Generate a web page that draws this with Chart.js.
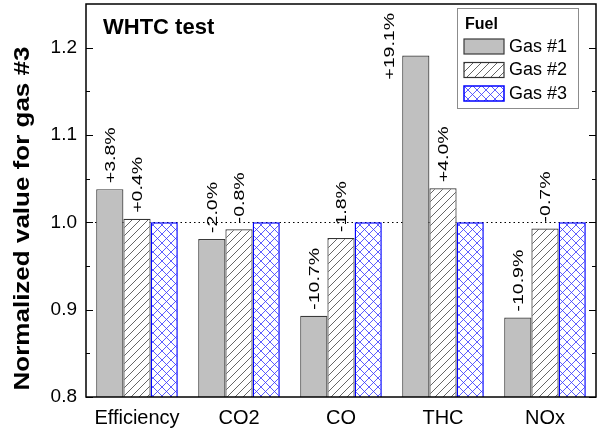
<!DOCTYPE html>
<html><head><meta charset="utf-8">
<script src="https://cdn.jsdelivr.net/npm/chart.js@4/dist/chart.umd.min.js"></script>
<style>html,body{margin:0;padding:0;background:#fff;overflow:hidden}</style>
</head><body>
<canvas id="c" width="599" height="429" style="width:599px;height:429px;display:block"></canvas>
<script>
const categories = ['Efficiency', 'CO2', 'CO', 'THC', 'NOx'];
const seriesNames = ['Gas #1', 'Gas #2', 'Gas #3'];
const gas1 = [1.038, 0.981, 0.893, 1.191, 0.891];
const gas2 = [1.004, 0.992, 0.982, 1.039, 0.993];
const gas3 = [1.000, 1.000, 1.000, 1.000, 1.000];
const gas1Labels = ['+3.8%', '-2.0%', '-10.7%', '+19.1%', '-10.9%'];
const gas2Labels = ['+0.4%', '-0.8%', '-1.8%', '+4.0%', '-0.7%'];
const yTicks = [0.8, 0.9, 1.0, 1.1, 1.2];
const yMinorTicks = [0.85, 0.95, 1.05, 1.15];
const yMin = 0.8, yMax = 1.25;
const referenceValue = 1.0;
const chartTitle = 'WHTC test';
const yTitle = 'Normalized value for gas #3';
const legendTitle = 'Fuel';

const FONT = "'Liberation Sans', Arial, sans-serif";

function makePattern(color, bg, size, cross, lw) {
  const c = document.createElement('canvas');
  c.width = size; c.height = size;
  const g = c.getContext('2d');
  g.fillStyle = bg; g.fillRect(0, 0, size, size);
  g.strokeStyle = color; g.lineWidth = lw;
  g.beginPath();
  for (let k = -1; k <= 1; k++) {
    g.moveTo(k * size, size); g.lineTo(k * size + size, 0);
    if (cross) { g.moveTo(k * size, 0); g.lineTo(k * size + size, size); }
  }
  g.stroke();
  return g.createPattern(c, 'repeat');
}
const pat2 = makePattern('#555555', '#ffffff', 8, false, 0.9);
const pat3 = makePattern('#3333ff', '#ffffff', 9, true, 0.8);

const styles = [
  { bg: '#c0c0c0', border: '#3a3a3a', bw: 1.2 },
  { bg: pat2, border: '#333333', bw: 1.2 },
  { bg: pat3, border: '#0000ff', bw: 1.5 }
];

const framePlugin = {
  id: 'frame',
  beforeDatasetsDraw(chart) {
    const { ctx, chartArea: a, scales } = chart;
    const y = scales.y.getPixelForValue(referenceValue);
    ctx.save();
    ctx.strokeStyle = '#000'; ctx.lineWidth = 1;
    ctx.setLineDash([1.5, 3]);
    ctx.beginPath(); ctx.moveTo(a.left, Math.round(y) + 0.5); ctx.lineTo(a.right, Math.round(y) + 0.5); ctx.stroke();
    ctx.restore();
  },
  afterDatasetsDraw(chart) {
    const { ctx, chartArea: a } = chart;
    const labelSets = [gas1Labels, gas2Labels];
    ctx.save();
    ctx.fillStyle = '#000';
    const fs = 19.5;
    ctx.font = fs + 'px ' + FONT;
    labelSets.forEach((labels, di) => {
      const meta = chart.getDatasetMeta(di);
      meta.data.forEach((bar, i) => {
        const txt = labels[i];
        const len = ctx.measureText(txt).width;
        let x = bar.x, start = bar.y - 6;
        if (start - len < a.top + 6) {
          x = bar.x - bar.width;
          start = a.top + 9 + len;
        }
        ctx.save();
        ctx.translate(x, start);
        ctx.rotate(-Math.PI / 2);
        ctx.scale(1, 0.74);
        ctx.textAlign = 'left';
        ctx.textBaseline = 'alphabetic';
        ctx.fillText(txt, 0, fs * 0.358);
        ctx.restore();
      });
    });
    ctx.restore();
  },
  afterDraw(chart) {
    const { ctx, chartArea: a, scales } = chart;
    const ys = scales.y;
    ctx.save();
    ctx.strokeStyle = '#000'; ctx.lineWidth = 1.5;
    ctx.strokeRect(a.left, a.top, a.right - a.left, a.bottom - a.top);
    ctx.lineWidth = 1.2;
    ctx.beginPath();
    yTicks.forEach(v => {
      const p = Math.round(ys.getPixelForValue(v)) + 0.5;
      ctx.moveTo(a.left, p); ctx.lineTo(a.left + 7, p);
      ctx.moveTo(a.right, p); ctx.lineTo(a.right - 7, p);
    });
    yMinorTicks.forEach(v => {
      const p = Math.round(ys.getPixelForValue(v)) + 0.5;
      ctx.moveTo(a.left, p); ctx.lineTo(a.left + 4, p);
      ctx.moveTo(a.right, p); ctx.lineTo(a.right - 4, p);
    });
    ctx.stroke();
    ctx.fillStyle = '#000';
    ctx.font = 'bold 22px ' + FONT;
    ctx.textAlign = 'left'; ctx.textBaseline = 'alphabetic';
    ctx.fillText(chartTitle, a.left + 17, a.top + 30);
    ctx.save();
    ctx.translate(23, (a.top + a.bottom) / 2 + 18);
    ctx.rotate(-Math.PI / 2);
    ctx.scale(1, 0.83);
    ctx.font = 'bold 26px ' + FONT;
    ctx.textAlign = 'center'; ctx.textBaseline = 'alphabetic';
    ctx.fillText(yTitle, 0, 26 * 0.3);
    ctx.restore();
    const lx = a.right - 139, ly = a.top + 4, lw = 121, lh = 100;
    ctx.fillStyle = '#fff';
    ctx.fillRect(lx, ly, lw, lh);
    ctx.strokeStyle = '#8c8c8c'; ctx.lineWidth = 1;
    ctx.strokeRect(lx + 0.5, ly + 0.5, lw, lh);
    ctx.fillStyle = '#000';
    ctx.font = 'bold 16px ' + FONT;
    ctx.textBaseline = 'middle';
    ctx.fillText(legendTitle, lx + 8, ly + 17);
    ctx.font = '18px ' + FONT;
    seriesNames.forEach((name, i) => {
      const sy = ly + 31 + i * 23.5;
      const st = styles[i];
      ctx.fillStyle = st.bg;
      ctx.fillRect(lx + 7, sy, 40, 15);
      ctx.strokeStyle = st.border; ctx.lineWidth = st.bw;
      ctx.strokeRect(lx + 7, sy, 40, 15);
      ctx.fillStyle = '#000';
      ctx.fillText(name, lx + 52, sy + 8);
    });
    ctx.restore();
  }
};

new Chart(document.getElementById('c'), {
  type: 'bar',
  data: {
    labels: categories,
    datasets: [gas1, gas2, gas3].map((d, i) => ({
      label: seriesNames[i], data: d,
      backgroundColor: styles[i].bg, borderColor: styles[i].border, borderWidth: styles[i].bw
    }))
  },
  options: {
    responsive: false, animation: false, devicePixelRatio: 1,
    layout: { padding: { top: 4, right: 3, left: 0, bottom: 0 } },
    datasets: { bar: { barPercentage: 1.0, categoryPercentage: 0.8 } },
    plugins: { legend: { display: false }, title: { display: false }, tooltip: { enabled: false } },
    scales: {
      x: {
        grid: { display: false, drawTicks: false }, border: { display: false },
        ticks: { color: '#000', font: { family: FONT, size: 20 }, padding: 9, maxRotation: 0 },
        afterFit(s) { s.height = 32; s.paddingLeft = 0; s.paddingRight = 0; }
      },
      y: {
        min: yMin, max: yMax,
        grid: { display: false, drawTicks: false }, border: { display: false },
        afterBuildTicks(s) { s.ticks = yTicks.map(v => ({ value: v })); },
        ticks: { color: '#000', font: { family: FONT, size: 19 }, padding: 9, callback: v => v.toFixed(1) },
        afterFit(s) { s.width = 86; s.paddingTop = 0; s.paddingBottom = 0; }
      }
    }
  },
  plugins: [framePlugin]
});
</script>
</body></html>
